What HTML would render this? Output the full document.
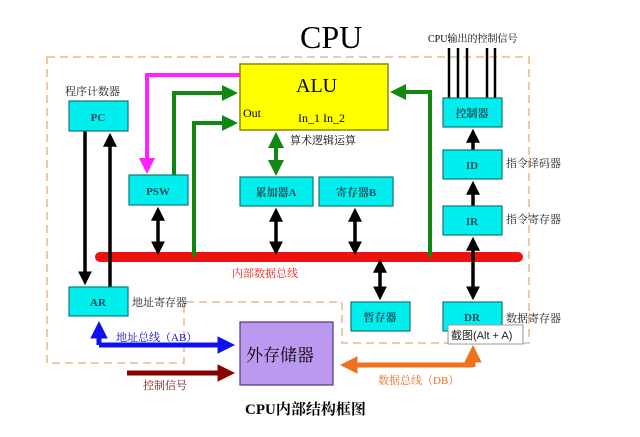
<!DOCTYPE html>
<html><head><meta charset="utf-8"><style>
body{margin:0;background:#fff;}
svg text{font-family:"Liberation Serif","Noto Serif CJK SC",serif;}
</style></head><body>
<svg width="640" height="432" viewBox="0 0 640 432" xmlns="http://www.w3.org/2000/svg">
<defs>
<marker id="bk" markerWidth="4" markerHeight="4" refX="2.5" refY="2" orient="auto" markerUnits="strokeWidth"><path d="M0,0 L4,2 L0,4 z" fill="#000"/></marker>
<marker id="gr" markerWidth="4" markerHeight="4" refX="2.5" refY="2" orient="auto" markerUnits="strokeWidth"><path d="M0,0 L4,2 L0,4 z" fill="#118811"/></marker>
<marker id="mg" markerWidth="4" markerHeight="4" refX="2.5" refY="2" orient="auto" markerUnits="strokeWidth"><path d="M0,0 L4,2 L0,4 z" fill="#ff22ff"/></marker>
<marker id="bl" markerWidth="3.5" markerHeight="3.5" refX="2.5" refY="1.75" orient="auto" markerUnits="strokeWidth"><path d="M0,0 L3.5,1.75 L0,3.5 z" fill="#1010ee"/></marker>
<marker id="br" markerWidth="3.5" markerHeight="3.5" refX="2.5" refY="1.75" orient="auto" markerUnits="strokeWidth"><path d="M0,0 L3.5,1.75 L0,3.5 z" fill="#880000"/></marker>
<marker id="or" markerWidth="3.5" markerHeight="3.5" refX="2.5" refY="1.75" orient="auto" markerUnits="strokeWidth"><path d="M0,0 L3.5,1.75 L0,3.5 z" fill="#f07020"/></marker>
</defs>
<path d="M47,57 H529 V343 H342 V302 H184 V363 H47 Z" fill="none" stroke="#e8b890" stroke-width="1.5" stroke-dasharray="8,5"/>
<text x="300" y="48" font-size="32" fill="#000">CPU</text>
<text x="428" y="42" font-size="10">CPU输出的控制信号</text>
<g stroke="#000" stroke-width="2.5">
<line x1="449" y1="48" x2="449" y2="98"/><line x1="458" y1="48" x2="458" y2="98"/><line x1="467" y1="48" x2="467" y2="98"/><line x1="487" y1="48" x2="487" y2="98"/><line x1="495" y1="48" x2="495" y2="98"/>
</g>
<line x1="100" y1="257" x2="518" y2="257" stroke="#ee1111" stroke-width="10" stroke-linecap="round"/>
<g fill="none" stroke="#118811" stroke-width="4">
<path d="M174,175 V93 H232" marker-end="url(#gr)"/>
<path d="M194,257 V123 H232" marker-end="url(#gr)"/>
<path d="M430,257 V92 H396" marker-end="url(#gr)"/>
<path d="M276,145 V138" marker-end="url(#gr)"/>
<path d="M276,160 V170" marker-end="url(#gr)"/>
<line x1="276" y1="140" x2="276" y2="168"/>
</g>
<path d="M240,75 H147 V168" fill="none" stroke="#ff22ff" stroke-width="4" marker-end="url(#mg)"/>
<g stroke="#000" stroke-width="3.5" fill="none">
<path d="M85,131 V280" marker-end="url(#bk)"/>
<path d="M110,287 V138" marker-end="url(#bk)"/>
<path d="M158,230 V212" marker-end="url(#bk)"/><path d="M158,230 V250" marker-end="url(#bk)"/>
<path d="M276,230 V213" marker-end="url(#bk)"/><path d="M276,230 V250" marker-end="url(#bk)"/>
<path d="M355,230 V213" marker-end="url(#bk)"/><path d="M355,230 V250" marker-end="url(#bk)"/>
<path d="M380,280 V264" marker-end="url(#bk)"/><path d="M380,280 V295" marker-end="url(#bk)"/>
<path d="M473,268 V242" marker-end="url(#bk)"/><path d="M473,268 V295" marker-end="url(#bk)"/>
<path d="M473,206 V186" marker-end="url(#bk)"/>
<path d="M473,150 V134" marker-end="url(#bk)"/>
</g>
<rect x="240" y="64" width="148" height="66" fill="#ffff00" stroke="#888800" stroke-width="1.5"/>
<text x="296" y="92" font-size="20">ALU</text>
<text x="243" y="117" font-size="12">Out</text>
<text x="298" y="122" font-size="12">In_1 In_2</text>
<text x="290" y="144" font-size="11">算术逻辑运算</text>
<g fill="#00eeee" stroke="#117777" stroke-width="1.2">
<rect x="69" y="101" width="59" height="30"/>
<rect x="129" y="175" width="59" height="30"/>
<rect x="240" y="177" width="73" height="29"/>
<rect x="319" y="177" width="74" height="29"/>
<rect x="443" y="98" width="59" height="29"/>
<rect x="443" y="150" width="59" height="29"/>
<rect x="443" y="206" width="59" height="29"/>
<rect x="443" y="302" width="59" height="29"/>
<rect x="351" y="302" width="59" height="29"/>
<rect x="69" y="287" width="59" height="29"/>
</g>
<g font-size="11" fill="#1a4a5a" text-anchor="middle" font-weight="bold">
<text x="98" y="121">PC</text><text x="158" y="195">PSW</text>
<text x="276" y="196">累加器A</text><text x="356" y="196">寄存器B</text>
<text x="472" y="117">控制器</text><text x="472" y="169">ID</text>
<text x="472" y="225">IR</text><text x="472" y="321">DR</text>
<text x="380" y="321">暂存器</text><text x="98" y="306">AR</text>
</g>
<g font-size="11" fill="#222">
<text x="65" y="95">程序计数器</text>
<text x="506" y="167">指令译码器</text>
<text x="506" y="223">指令寄存器</text>
<text x="506" y="322">数据寄存器</text>
<text x="132" y="306">地址寄存器</text>
</g>
<text x="232" y="277" font-size="11" fill="#ee2222">内部数据总线</text>
<rect x="240" y="322" width="93" height="63" fill="#bb99ee" stroke="#553377" stroke-width="1.2"/>
<text x="246" y="361" font-size="17">外存储器</text>
<path d="M99,345 H230" fill="none" stroke="#1010ee" stroke-width="5" marker-end="url(#bl)"/>
<path d="M99,345 V326" fill="none" stroke="#1010ee" stroke-width="5" marker-end="url(#bl)"/>
<text x="116" y="341" font-size="11" fill="#1010cc">地址总线（AB）</text>
<path d="M127,373 H230" fill="none" stroke="#880000" stroke-width="5" marker-end="url(#br)"/>
<text x="143" y="389" font-size="11" fill="#771111">控制信号</text>
<path d="M473,365 H345" fill="none" stroke="#f07020" stroke-width="5" marker-end="url(#or)"/>
<path d="M473,367 V350" fill="none" stroke="#f07020" stroke-width="5" marker-end="url(#or)"/>
<text x="378" y="384" font-size="11" fill="#f07020">数据总线（DB）</text>
<rect x="448" y="325" width="75" height="19" fill="#fff" stroke="#999" stroke-width="1"/>
<text x="451" y="339" font-size="11" fill="#222" style="font-family:'Liberation Sans','Noto Sans CJK SC',sans-serif">截图(Alt + A)</text>
<text x="245" y="414" font-size="15" font-weight="bold">CPU内部结构框图</text>
</svg>
</body></html>
